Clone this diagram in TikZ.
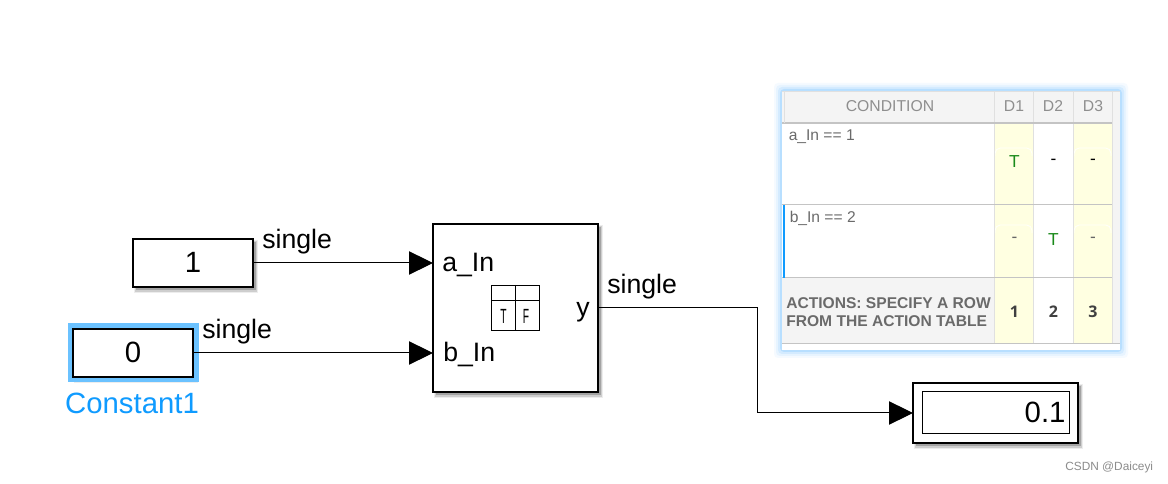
\documentclass[tikz,border=0pt]{standalone}
\usepackage{fontspec}
\setmainfont{Liberation Sans}
\newfontfamily\numfont{Open Sans}
\usetikzlibrary{arrows.meta,positioning}
\definecolor{selblue}{HTML}{6BC2FF}
\definecolor{namblue}{HTML}{0F9BFF}
\definecolor{gridgray}{HTML}{C4C4C4}
\definecolor{cellgray}{HTML}{F4F4F4}
\definecolor{cellyel}{HTML}{FFFFE1}
\definecolor{txtgray}{HTML}{8E8E8E}
\definecolor{condtxt}{HTML}{6A6A6A}
\definecolor{trueg}{HTML}{1A8A1A}
\tikzset{
  px/.style={x=0.75pt,y=-0.75pt},
  blockbox/.style={draw=black,line width=1.5pt,fill=white,inner sep=0pt,outer sep=0pt,font=\fontsize{22}{24}\selectfont},
  sig/.style={line width=0.75pt,draw=black},
  sigarrow/.style={sig,-{Triangle[length=18pt,width=17.5pt]}},
  siglabel/.style={font=\fontsize{20}{22}\selectfont,inner sep=0pt,anchor=base west},
  portlabel/.style={font=\fontsize{20}{22}\selectfont,inner sep=0pt},
  hdr/.style={font=\fontsize{11.8}{13}\selectfont,text=txtgray,inner sep=0pt},
  cond/.style={font=\fontsize{11.7}{13}\selectfont,text=condtxt,inner sep=0pt,anchor=base west},
  act/.style={font=\bfseries\fontsize{11.7}{13}\selectfont,text=condtxt,inner sep=0pt,anchor=base west},
  num/.style={font=\numfont\bfseries\fontsize{12}{13}\selectfont,text=black!75,inner sep=0pt},
  cellmark/.style={font=\fontsize{13}{14}\selectfont,inner sep=0pt},
  grid/.style={draw=gridgray,line width=1.3pt},
  thin grid/.style={draw=black!12,line width=0.6pt},
  icon/.style={draw=black,line width=0.6pt},
}
\newcommand{\softshadow}[4]{%
  \fill[black,opacity=.07] (#1+1,#2+1) rectangle (#3+5,#4+6);
  \fill[black,opacity=.13] (#1+2,#2+2) rectangle (#3+4,#4+5);
  \fill[black,opacity=.20] (#1+3,#2+3) rectangle (#3+3,#4+3);
}
\begin{document}
\begin{tikzpicture}[px]
\useasboundingbox (0,0) rectangle (1168,484);
\fill[white] (0,0) rectangle (1168,484);

% --- decision-table screenshot
\foreach \g/\o in {8/.05,6/.08,4/.12,2/.20}{
  \fill[blue!45!cyan!70!white,opacity=\o,rounded corners=3pt] (782-\g,91-\g) rectangle (1120+\g,350+\g);
}
\fill[white] (782,91) rectangle (1120,350);
\fill[cellgray] (782,91) rectangle (1120,123);
\fill[cellgray] (1112,91) rectangle (1120,343);
\fill[cellgray] (782,277) rectangle (994,343);
\fill[cellyel] (994,123) rectangle (1033,343);
\fill[cellyel] (1073,123) rectangle (1112,343);
% rounded highlights
\foreach \xa/\xb/\y in {995/1032/148,1074/1111/148,995/1032/225,1074/1111/225}{
  \draw[white,line width=.6pt,opacity=.9,rounded corners=4pt] (\xa,\y+8) -- (\xa,\y) -- (\xb,\y) -- (\xb,\y+8);
}
% grid
\foreach \x in {994,1033,1073,1112}{
  \draw[thin grid] (\x,91) -- (\x,343);
}
\draw[grid] (782,123) -- (1112,123);
\draw[grid] (782,204.5) -- (1112,204.5);
\draw[grid] (782,277.5) -- (1112,277.5);
\draw[grid] (782,343.5) -- (1120,343.5);
\draw[thin grid] (782,91.5) -- (1120,91.5);
\draw[thin grid] (784,91) -- (784,123);
% selection bar
\draw[namblue,line width=1.4pt] (783,206) -- (785,206) (784,206) -- (784,277) (783,277) -- (785,277);

\node[hdr] (hc) at (890,106) {CONDITION};
\node[hdr] (h1) at (1014,106) {D1};
\node[hdr] (h2) at (1053,106) {D2};
\node[hdr] (h3) at (1093,106) {D3};
\node[cond] (ca) at (788.5,141) {a\_In == 1};
\node[cond] (cb) at (789.5,223) {b\_In == 2};
\node[cellmark,text=trueg] (t1) at (1014.5,162) {T};
\node[cellmark] (m12) at (1053.5,162) {-};
\node[cellmark] (m13) at (1093,162) {-};
\node[cellmark,text=black!60] (m21) at (1014.5,240) {-};
\node[cellmark,text=trueg] (t2) at (1053.5,239.5) {T};
\node[cellmark,text=black!60] (m23) at (1093,240) {-};
\node[act] (a1) at (786,308.5) {ACTIONS: SPECIFY A ROW};
\node[act] (a2) at (786,327) {FROM THE ACTION TABLE};
\node[num] (n1) at (1014.5,312) {1};
\node[num] (n2) at (1053.5,312) {2};
\node[num] (n3) at (1093,312) {3};

% --- shadows
\softshadow{133}{239}{253}{287}
\softshadow{73}{329}{193}{377}
\softshadow{433}{224}{598}{392}
\softshadow{913}{383}{1078}{443}

% --- selection highlight
\fill[selblue] (67.5,323.5) rectangle (198.5,382.5);

% --- blocks
\node[blockbox,minimum width=90pt,minimum height=36pt] (c1) at (193,263) {\raisebox{1.5pt}{1}};
\node[blockbox,minimum width=90pt,minimum height=36pt] (c0) at (133,353) {\raisebox{1.5pt}{0}};
\node[blockbox,minimum width=123.75pt,minimum height=126pt] (tb) at (515.5,308) {};
\node[blockbox,minimum width=123.75pt,minimum height=45pt] (disp) at (995.5,413) {};
\node[draw=black,line width=.75pt,fill=white,inner sep=0pt,minimum width=110.25pt,minimum height=31.5pt,text width=105pt,align=right,font=\fontsize{22}{24}\selectfont] (dval) at (995.5,413) {\raisebox{1.5pt}{0.1}};

% --- block name
\node[font=\fontsize{22}{24}\selectfont,text=namblue,inner sep=0pt] (nm) at (132,403) {Constant1};

% --- port labels
\node[portlabel,anchor=base west] (pa) at (442,272) {a\_In};
\node[portlabel,anchor=base west] (pb) at (443,362) {b\_In};
\node[portlabel,anchor=base east] (py) at (590,317) {y};

% --- table icon
\draw[icon] (491.7,285) rectangle (539.3,330);
\draw[icon] (491.7,300) -- (539.3,300);
\draw[icon] (515.5,285) -- (515.5,330);
\node[font=\fontsize{14}{14}\selectfont,inner sep=0pt,xscale=.55,yscale=1.1] (it) at (503.5,316) {T};
\node[font=\fontsize{14}{14}\selectfont,inner sep=0pt,xscale=.55,yscale=1.1] (if) at (526,316) {F};

% --- connectors
\coordinate (ta) at (tb.west |- c1.east);
\coordinate (tbb) at (tb.west |- c0.east);
\coordinate (bend0) at (757,0);
\coordinate (bend1) at (bend0 |- tb.east);
\draw[sigarrow] (c1.east) -- (ta);
\draw[sigarrow] (c0.east) -- (tbb);
\draw[sigarrow] (tb.east) -- (bend1) -- (bend1 |- disp.west) -- (disp.west);

% --- signal labels
\node[siglabel] (s1) at (262,248.5) {single};
\node[siglabel] (s2) at (202,338.5) {single};
\node[siglabel] (s3) at (607,293.5) {single};

% --- watermark
\node[font=\fontsize{8.9}{10}\selectfont,text=black!45,inner sep=0pt,anchor=base west] (wm) at (1065,471) {CSDN @Daiceyi};
\end{tikzpicture}
\end{document}
